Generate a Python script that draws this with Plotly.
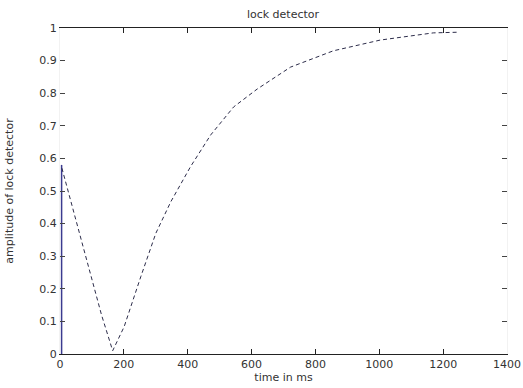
import plotly.graph_objects as go

# data
time_ms = [6, 50, 92, 130, 165, 201, 253, 300, 347, 409, 472, 544, 618, 722, 856, 1003, 1169, 1244]
amplitude = [0.57, 0.41, 0.258, 0.12, 0.01, 0.084, 0.237, 0.37, 0.467, 0.575, 0.672, 0.758, 0.813, 0.88, 0.93, 0.963, 0.985, 0.987]
marker_x = [5, 5]
marker_y = [0, 0.58]

x_ticks = [0, 200, 400, 600, 800, 1000, 1200, 1400]
y_ticks = [0, 0.1, 0.2, 0.3, 0.4, 0.5, 0.6, 0.7, 0.8, 0.9, 1]
y_ticktext = ["0", "0.1", "0.2", "0.3", "0.4", "0.5", "0.6", "0.7", "0.8", "0.9", "1"]

fig = go.Figure()
fig.add_trace(go.Scatter(x=marker_x, y=marker_y, mode="lines",
                         line=dict(color="#3b3b8f", width=1.5), showlegend=False))
fig.add_trace(go.Scatter(x=time_ms, y=amplitude, mode="lines",
                         line=dict(color="#2c2c4a", width=1, dash="4px,3px"),
                         showlegend=False))

W, H = 523, 388
font = dict(family="DejaVu Sans", size=11, color="#333333")
fig.update_layout(
    width=W, height=H,
    margin=dict(l=60, r=16, t=28, b=34, autoexpand=False),
    paper_bgcolor="white", plot_bgcolor="white",
    font=font,
    title=dict(text="lock detector", x=283 / W, xanchor="center", y=1 - 14 / H, yanchor="middle",
               font=dict(family="DejaVu Sans", size=11, color="#333333")),
    xaxis=dict(range=[0, 1400], tickvals=x_ticks, showgrid=False, zeroline=False, automargin=False,
               showline=True, linecolor="#222222", linewidth=1.2, mirror="ticks",
               ticks="inside", ticklen=5, tickcolor="#222222", ticklabeloverflow="allow",
               title=dict(text="time in ms", standoff=1, font=font)),
    yaxis=dict(range=[0, 1], tickvals=y_ticks, ticktext=y_ticktext, showgrid=False, zeroline=False,
               automargin=False,
               showline=True, linecolor="#f2f2f2", linewidth=1, mirror="ticks",
               ticks="inside", ticklen=5, tickcolor="#444444",
               title=dict(text="amplitude of lock detector", standoff=23, font=font)),
)

fig.write_html("out.html", config={"displayModeBar": False},
               post_script="document.body.style.margin='0';document.documentElement.style.overflow='hidden';")
